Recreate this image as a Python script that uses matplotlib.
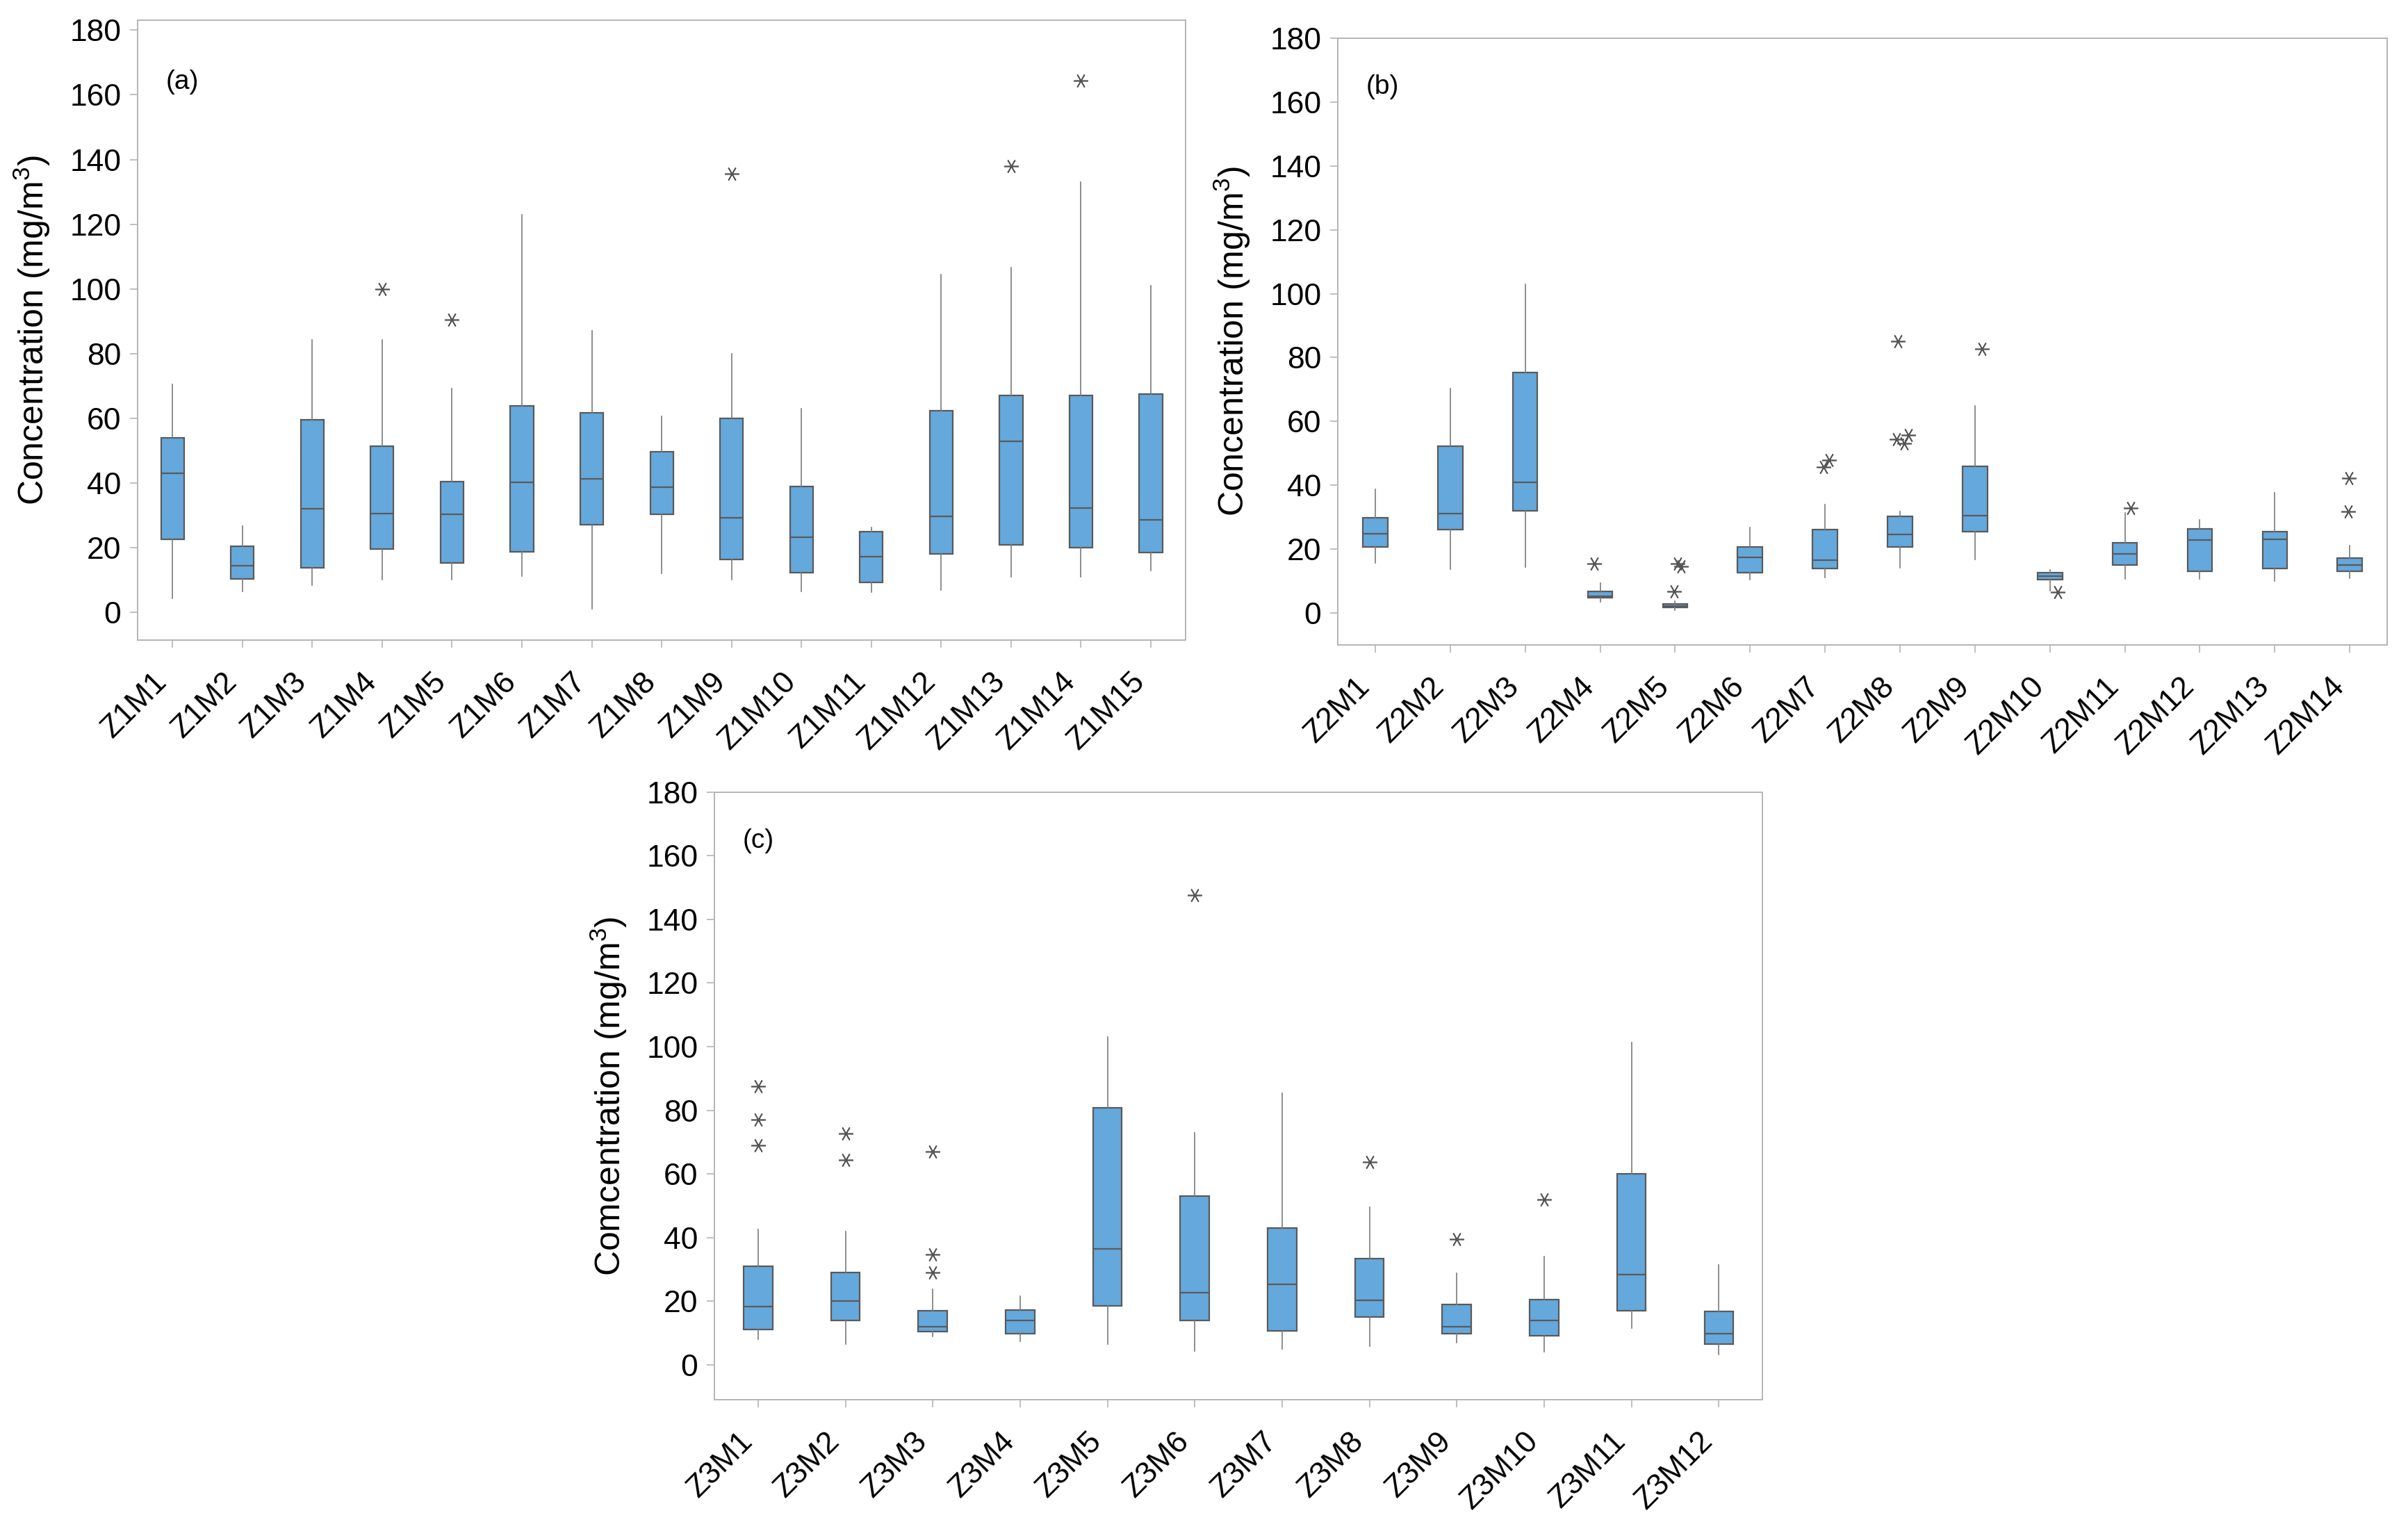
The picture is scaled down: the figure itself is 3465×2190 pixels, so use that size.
import matplotlib
matplotlib.use("Agg")
import matplotlib.pyplot as plt

plt.rcParams['font.family'] = ['Liberation Sans', 'DejaVu Sans']
plt.rcParams['mathtext.default'] = 'regular'

# ---- panel (a): zone 1 ----
a_labels = ['Z1M1', 'Z1M2', 'Z1M3', 'Z1M4', 'Z1M5', 'Z1M6', 'Z1M7', 'Z1M8',
            'Z1M9', 'Z1M10', 'Z1M11', 'Z1M12', 'Z1M13', 'Z1M14', 'Z1M15']
a_low = [4.4, 6.5, 8.4, 10.2, 10.2, 11.3, 1.2, 12.0, 10.2, 6.5, 6.2, 6.9, 11.0, 11.0, 13.0]
a_q1 = [22.6, 10.4, 13.9, 19.7, 15.4, 18.8, 27.1, 30.3, 16.4, 12.4, 9.2, 18.2, 20.8, 20.0, 18.5]
a_med = [43.1, 14.5, 32.1, 30.6, 30.3, 40.2, 41.3, 38.7, 29.2, 23.2, 17.2, 29.7, 53.0, 32.2, 28.6]
a_q3 = [53.9, 20.5, 59.5, 51.4, 40.4, 63.9, 61.8, 49.7, 59.9, 39.0, 25.0, 62.4, 67.0, 67.0, 67.6]
a_high = [70.6, 26.7, 84.3, 84.2, 69.3, 123.0, 87.1, 60.6, 80.0, 63.1, 26.2, 104.5, 106.6, 133.0, 101.0]
a_out = [[], [], [], [100.0], [90.4], [], [], [], [135.7], [], [], [], [138.0], [164.3], []]

# ---- panel (b): zone 2 ----
b_labels = ['Z2M1', 'Z2M2', 'Z2M3', 'Z2M4', 'Z2M5', 'Z2M6', 'Z2M7',
            'Z2M8', 'Z2M9', 'Z2M10', 'Z2M11', 'Z2M12', 'Z2M13', 'Z2M14']
b_low = [15.7, 13.7, 14.3, 3.5, 0.9, 10.4, 11.0, 14.2, 16.8, 7.0, 10.6, 10.6, 10.0, 10.9]
b_q1 = [20.7, 26.2, 31.9, 4.8, 1.7, 12.7, 13.9, 20.6, 25.5, 10.4, 15.1, 13.0, 14.0, 13.0]
b_med = [24.9, 31.1, 40.9, 5.3, 2.2, 17.5, 16.5, 24.6, 30.5, 11.5, 18.5, 22.8, 23.1, 15.1]
b_q3 = [29.9, 52.3, 75.2, 6.7, 2.8, 20.6, 26.1, 30.2, 45.9, 12.6, 22.0, 26.4, 25.5, 17.2]
b_high = [38.7, 70.2, 103.0, 9.3, 3.7, 26.8, 33.9, 31.7, 64.8, 13.5, 31.3, 29.1, 37.7, 21.1]
b_out = [[], [], [], [15.4], [15.5, 14.5, 6.8], [], [45.6, 47.8],
         [85.0, 54.5, 53.0, 55.7], [82.7], [6.6], [32.9], [], [], [42.2, 31.7]]
# small sideways shift of the stars, as in the original
b_out_dx = [[], [], [], [-0.08], [0.03, 0.08, -0.01], [], [-0.02, 0.055],
            [-0.025, -0.05, 0.06, 0.11], [0.09], [0.1], [0.08], [], [], [-0.015, -0.02]]

# ---- panel (c): zone 3 ----
c_labels = ['Z3M1', 'Z3M2', 'Z3M3', 'Z3M4', 'Z3M5', 'Z3M6',
            'Z3M7', 'Z3M8', 'Z3M9', 'Z3M10', 'Z3M11', 'Z3M12']
c_low = [8.0, 6.5, 8.9, 7.4, 6.4, 4.2, 4.9, 5.8, 6.8, 4.1, 11.4, 3.2]
c_q1 = [11.1, 14.0, 10.5, 9.7, 18.4, 14.0, 10.6, 15.0, 9.7, 9.1, 17.0, 6.5]
c_med = [18.2, 20.0, 12.0, 14.0, 36.4, 22.6, 25.3, 20.3, 12.0, 14.0, 28.4, 9.7]
c_q3 = [30.9, 29.0, 17.0, 17.1, 80.7, 53.1, 42.9, 33.4, 19.0, 20.5, 59.9, 16.7]
c_high = [42.5, 41.9, 23.7, 21.5, 103.1, 72.9, 85.4, 49.6, 28.8, 34.0, 101.2, 31.4]
c_out = [[87.5, 77.0, 69.0], [72.6, 64.3], [66.9, 34.7, 29.0], [], [], [147.6],
         [], [63.7], [39.4], [52.0], [], []]

BOX_FILL = '#65a8dc'
EDGE = '#5a5a5a'
LINE = '#7a7a7a'
FRAME = '#b4b4b4'


def draw_panel(ax, labels, lo, q1, med, q3, hi, outs, outs_dx, tag, tag_y, ylabel, ylim):
    n = len(labels)
    pos = list(range(1, n + 1))
    stats = []
    for i in range(n):
        stats.append({'whislo': lo[i], 'q1': q1[i], 'med': med[i],
                      'q3': q3[i], 'whishi': hi[i], 'fliers': []})
    ax.bxp(stats, positions=pos, widths=0.33, showcaps=False, showfliers=False,
           patch_artist=True,
           boxprops=dict(facecolor=BOX_FILL, edgecolor=EDGE, linewidth=0.8),
           medianprops=dict(color=EDGE, linewidth=0.8),
           whiskerprops=dict(color=LINE, linewidth=0.6))
    for i in range(n):
        for j, v in enumerate(outs[i]):
            dx = outs_dx[i][j] if outs_dx is not None else 0.0
            ax.plot(pos[i] + dx, v, linestyle='none', marker=(6, 2, 90),
                    markersize=7.5, markeredgewidth=0.6, color='#555555')

    ax.set_xlim(0.5, n + 0.5)
    ax.set_ylim(*ylim)
    ax.set_yticks(range(0, 181, 20))
    ax.set_xticks(pos)
    ax.set_xticklabels(labels, rotation=45, ha='right')
    ax.tick_params(axis='both', direction='out', length=4, width=0.6,
                   color=FRAME, labelsize=16)
    ax.tick_params(axis='y', pad=4.5)
    ax.tick_params(axis='x', pad=10)
    for s in ax.spines.values():
        s.set_color(FRAME)
        s.set_linewidth(0.7)
    ax.set_ylabel(ylabel, fontsize=18, labelpad=9)
    ax.text(0.027, tag_y, tag, transform=ax.transAxes, fontsize=14,
            ha='left', va='center')


fig = plt.figure(figsize=(17.33, 10.95), dpi=200)
ax_a = fig.add_axes([0.0571, 0.5795, 0.4352, 0.4073])
ax_b = fig.add_axes([0.5554, 0.5763, 0.4357, 0.3986])
ax_c = fig.add_axes([0.2966, 0.0804, 0.4351, 0.3991])

draw_panel(ax_a, a_labels, a_low, a_q1, a_med, a_q3, a_high, a_out, None,
           '(a)', 0.90, 'Concentration (mg/m$^3$)', (-8.5, 183.1))
draw_panel(ax_b, b_labels, b_low, b_q1, b_med, b_q3, b_high, b_out, b_out_dx,
           '(b)', 0.92, 'Concentration (mg/m$^3$)', (-10, 180))
draw_panel(ax_c, c_labels, c_low, c_q1, c_med, c_q3, c_high, c_out, None,
           '(c)', 0.92, 'Comcentration (mg/m$^3$)', (-11, 180))

fig.savefig('out.png', dpi=200)
